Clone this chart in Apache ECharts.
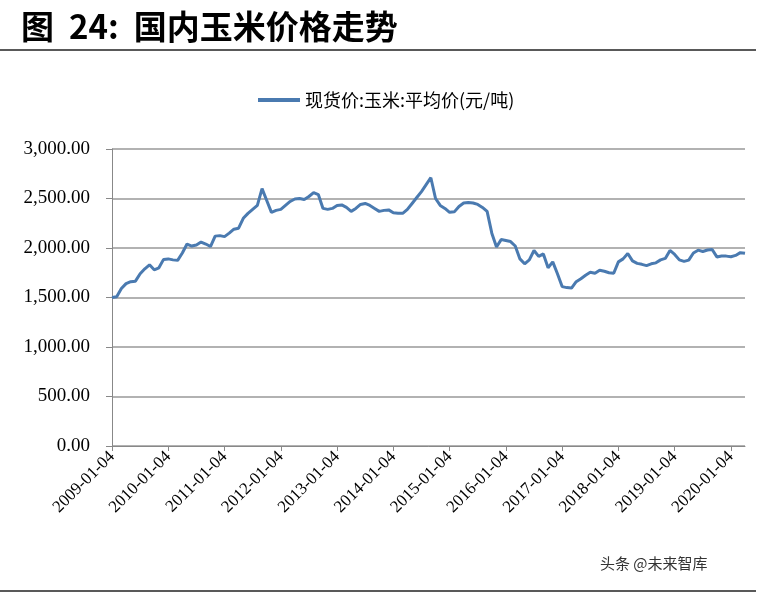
<!DOCTYPE html>
<html>
<head>
<meta charset="utf-8">
<script src="https://cdn.jsdelivr.net/npm/echarts@6/dist/echarts.min.js"></script>
<style>
  html, body { margin: 0; padding: 0; background: #fff; }
  #chart { width: 764px; height: 594px; }
</style>
</head>
<body>
<div id="chart"></div>
<script>
const startYear = 2009;
const monthCount = 136;   // 2009-01 .. 2020-04
const yTicks = [0, 500, 1000, 1500, 2000, 2500, 3000];

// spot price, monthly reading off the picture (元/吨)
const cornPrice = [
    1500, 1507, 1590, 1640, 1660, 1665, 1740, 1790, 1830, 1780, 1800, 1885,
    1890, 1880, 1875, 1950, 2040, 2020, 2030, 2060, 2040, 2015, 2120, 2125,
    2115, 2150, 2190, 2200, 2300, 2350, 2390, 2430, 2600, 2480, 2360, 2380,
    2390, 2430, 2470, 2495, 2500, 2490, 2520, 2560, 2540, 2400, 2390, 2400,
    2430, 2435, 2410, 2370, 2400, 2440, 2450, 2430, 2400, 2370, 2380, 2385,
    2355, 2350, 2350, 2390, 2450, 2510, 2570, 2640, 2710, 2500, 2430, 2400,
    2360, 2365, 2420, 2455, 2460, 2455, 2440, 2410, 2370, 2150, 2010, 2085,
    2075, 2065, 2020, 1890, 1840, 1880, 1975, 1915, 1940, 1800, 1860, 1740,
    1610, 1600, 1595, 1660, 1690, 1725, 1755, 1745, 1775, 1765, 1750, 1745,
    1860, 1890, 1945, 1870, 1845, 1835, 1822, 1840, 1850, 1880, 1895, 1975,
    1935, 1880, 1865, 1878, 1950, 1978, 1965, 1980, 1985, 1910, 1920, 1918,
    1912, 1925, 1953, 1946
];

const dates = [];
for (let i = 0; i < monthCount; i++) {
    const y = startYear + Math.floor(i / 12);
    const m = String(i % 12 + 1).padStart(2, '0');
    dates.push(`${y}-${m}-04`);
}

const chart = echarts.init(document.getElementById('chart'));
chart.setOption({
    animation: false,
    backgroundColor: '#fff',
    title: {
        text: '图  24:  国内玉米价格走势',
        left: 16,
        top: 5,
        textStyle: { fontFamily: 'Noto Sans CJK SC', fontSize: 33, fontWeight: 'bold', color: '#000' }
    },
    legend: {
        top: 86,
        left: 253,
        itemWidth: 42,
        itemHeight: 4,
        icon: 'rect',
        textStyle: { fontFamily: 'Noto Sans CJK SC', fontSize: 18, color: '#000' },
        data: ['现货价:玉米:平均价(元/吨)']
    },
    grid: { left: 112, right: 19, top: 149, bottom: 148, containLabel: false },
    xAxis: {
        type: 'category',
        data: dates,
        boundaryGap: false,
        axisLine: { lineStyle: { color: '#888', width: 1 } },
        axisTick: { show: true, interval: 11, length: 5, lineStyle: { color: '#888' } },
        axisLabel: {
            interval: 11,
            rotate: 45,
            fontFamily: 'Liberation Serif',
            fontSize: 17,
            color: '#000',
            margin: 8
        },
        splitLine: { show: false }
    },
    yAxis: {
        type: 'value',
        min: yTicks[0],
        max: yTicks[yTicks.length - 1],
        interval: 500,
        axisLine: { show: true, lineStyle: { color: '#888' } },
        axisTick: { show: true, length: 6, lineStyle: { color: '#888' } },
        axisLabel: {
            fontFamily: 'Liberation Serif',
            fontSize: 19,
            color: '#000',
            margin: 22,
            formatter: v => v.toLocaleString('en-US', { minimumFractionDigits: 2 })
        },
        splitLine: { lineStyle: { color: '#999', width: 1.5 } }
    },
    series: [{
        name: '现货价:玉米:平均价(元/吨)',
        type: 'line',
        data: cornPrice,
        showSymbol: false,
        smooth: false,
        lineStyle: { color: '#4a7ab0', width: 3 },
        itemStyle: { color: '#4a7ab0' }
    }],
    graphic: [
        { type: 'line', shape: { x1: 0, y1: 50, x2: 756, y2: 50 }, style: { stroke: '#222', lineWidth: 1.5 } },
        { type: 'line', shape: { x1: 0, y1: 591, x2: 756, y2: 591 }, style: { stroke: '#222', lineWidth: 1.5 } },
        {
            type: 'text', left: 600, top: 556,
            style: { text: '头条 @未来智库', fontFamily: 'Noto Sans CJK SC', fontSize: 15, fill: '#333' }
        }
    ]
});
</script>
</body>
</html>
